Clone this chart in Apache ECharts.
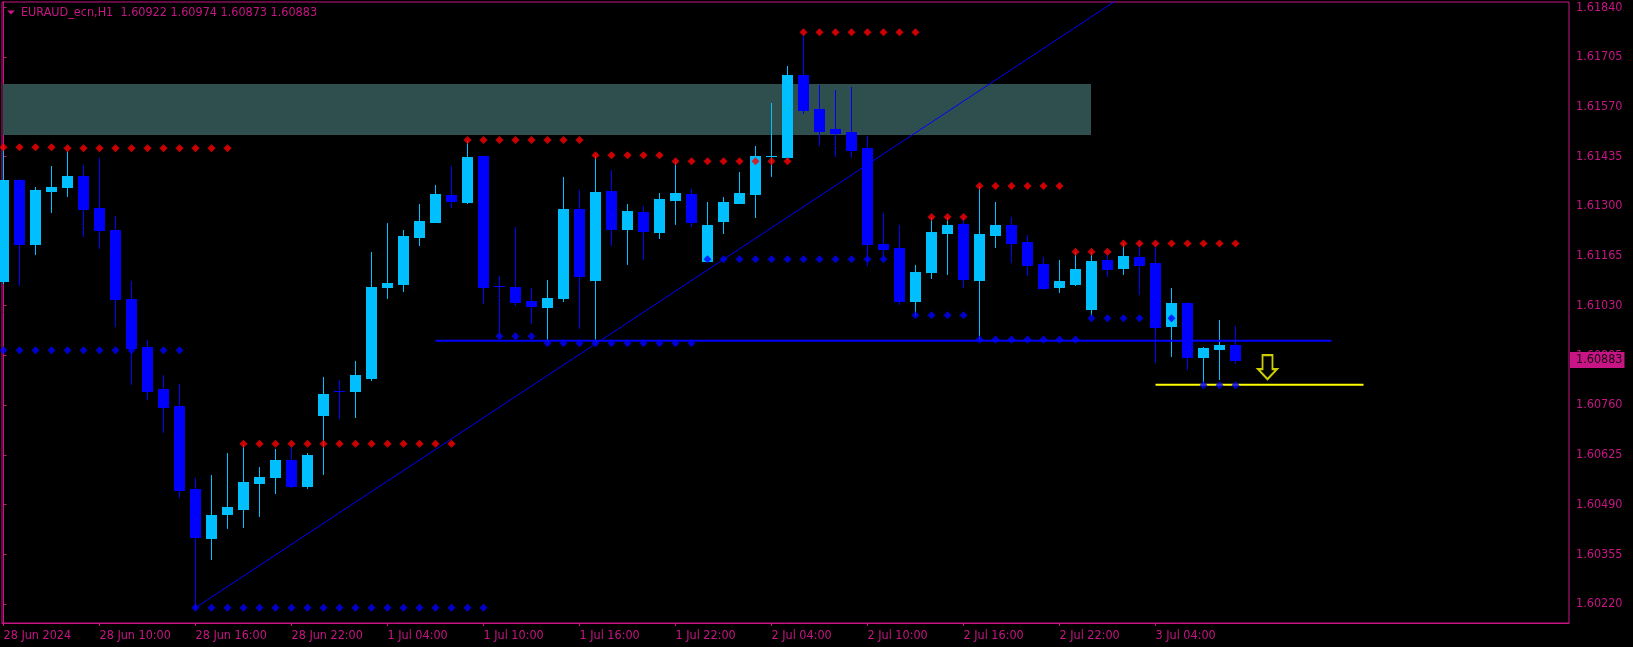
<!DOCTYPE html>
<html><head><meta charset="utf-8">
<script src="https://cdn.jsdelivr.net/npm/echarts@6/dist/echarts.min.js"></script>
<style>html,body{margin:0;padding:0;background:#000;}#c{width:1633px;height:647px;}</style>
</head><body><div id="c"></div>
<script>
const chartTitle = 'EURAUD_ecn,H1  1.60922 1.60974 1.60873 1.60883';
// H1 candles, index 0 = 28 Jun 2024 04:00
const opens = [1.61097,1.61371,1.61198,1.61342,1.61352,1.61382,1.61295,1.61235,1.61048,1.60918,
1.60804,1.60758,1.60532,1.60400,1.60465,1.60479,1.60549,1.60565,1.60611,1.60540,
1.60734,1.60797,1.60798,1.60834,1.61081,1.61089,1.61216,1.61257,1.61330,1.61311,
1.61436,1.61083,1.61081,1.61043,1.61026,1.61051,1.61292,1.61100,1.61341,1.61238,
1.61284,1.61230,1.61317,1.61333,1.61151,1.61260,1.61309,1.61333,1.61435,1.61434,
1.61656,1.61564,1.61510,1.61501,1.61458,1.61197,1.61186,1.61043,1.61121,1.61227,
1.61252,1.61100,1.61222,1.61249,1.61203,1.61143,1.61081,1.61089,1.61021,1.61154,
1.61132,1.61162,1.61146,1.60975,1.61037,1.60891,1.60912,1.60922];
const highs = [1.61458,1.61374,1.61352,1.61409,1.61451,1.61412,1.61431,1.61273,1.61097,1.60938,
1.60842,1.60817,1.60562,1.60570,1.60630,1.60652,1.60592,1.60641,1.60652,1.60630,
1.60836,1.60828,1.60880,1.61176,1.61254,1.61235,1.61306,1.61358,1.61409,1.61476,
1.61436,1.61110,1.61243,1.61078,1.61100,1.61379,1.61344,1.61436,1.61398,1.61306,
1.61301,1.61336,1.61420,1.61347,1.61311,1.61325,1.61393,1.61463,1.61580,1.61681,
1.61772,1.61629,1.61615,1.61624,1.61491,1.61282,1.61249,1.61140,1.61271,1.61271,
1.61271,1.61355,1.61311,1.61271,1.61222,1.61162,1.61154,1.61176,1.61176,1.61176,
1.61200,1.61200,1.61200,1.61078,1.61040,1.60918,1.60991,1.60974];
const lows = [1.61091,1.61086,1.61171,1.61285,1.61328,1.61220,1.61187,1.60976,1.60818,1.60777,
1.60688,1.60511,1.60210,1.60342,1.60427,1.60430,1.60460,1.60522,1.60538,1.60536,
1.60574,1.60726,1.60728,1.60828,1.61051,1.61070,1.61195,1.61257,1.61298,1.61309,
1.61037,1.60948,1.61032,1.60983,1.60935,1.61043,1.60969,1.60934,1.61195,1.61143,
1.61157,1.61214,1.61252,1.61246,1.61151,1.61227,1.61309,1.61271,1.61382,1.61428,
1.61553,1.61466,1.61436,1.61434,1.61140,1.61157,1.61034,1.61005,1.61105,1.61116,
1.61081,1.60937,1.61189,1.61148,1.61113,1.61075,1.61067,1.61086,1.61005,1.61110,
1.61116,1.61062,1.60877,1.60893,1.60858,1.60815,1.60831,1.60873];
const closes = [1.61371,1.61198,1.61344,1.61352,1.61382,1.61292,1.61236,1.61048,1.60916,1.60798,
1.60755,1.60530,1.60402,1.60462,1.60483,1.60551,1.60565,1.60611,1.60541,1.60624,
1.60790,1.60797,1.60842,1.61081,1.61091,1.61219,1.61260,1.61333,1.61314,1.61434,
1.61081,1.61083,1.61040,1.61029,1.61051,1.61292,1.61110,1.61339,1.61238,1.61287,
1.61233,1.61320,1.61336,1.61257,1.61249,1.61311,1.61336,1.61436,1.61436,1.61656,
1.61561,1.61504,1.61499,1.61453,1.61197,1.61184,1.61043,1.61121,1.61230,1.61249,
1.61102,1.61224,1.61249,1.61200,1.61140,1.61078,1.61097,1.61129,1.61151,1.61129,
1.61165,1.61140,1.60972,1.61037,1.60891,1.60915,1.60923,1.60883];

const xTickIdx = [0,6,12,18,24,30,36,42,48,54,60,66,72];
const xTickLabels = ['28 Jun 2024','28 Jun 10:00','28 Jun 16:00','28 Jun 22:00','1 Jul 04:00','1 Jul 10:00',
  '1 Jul 16:00','1 Jul 22:00','2 Jul 04:00','2 Jul 10:00','2 Jul 16:00','2 Jul 22:00','3 Jul 04:00'];
const yTicks = [1.61840,1.61705,1.61570,1.61435,1.61300,1.61165,1.61030,1.60895,1.60760,1.60625,1.60490,1.60355,1.60220];
const lastPrice = 1.60883;

// [fromIndex, toIndex, price]
const resistanceDots = [[0,3,1.61460],[4,14,1.61457],[15,28,1.60655],[29,36,1.61480],[37,41,1.61438],
  [42,49,1.61422],[50,57,1.61772],[58,60,1.61271],[61,66,1.61355],[67,69,1.61176],[70,77,1.61199]];
const supportDots = [[0,11,1.60909],[12,30,1.60210],[31,33,1.60947],[34,43,1.60928],[44,55,1.61156],
  [57,60,1.61004],[61,67,1.60938],[68,73,1.60996],[75,77,1.60814]];

const zoneBox = [[-0.03, 68, 1.61632, 1.61493]]; // [x0, x1, top, bottom]
const trendLine = [[12, 1.60210], [72, 1.61929]];
const levelLine = [[27, 1.60935], [83, 1.60935]];
const targetLine = [[72, 1.60815], [85, 1.60815]];
const arrowPoint = [[79, 1.60863]];

const MAG = '#C71585', BULL = '#00BFFF', BEAR = '#0000FF';
const FONT = "'DejaVu Sans Condensed', 'DejaVu Sans'";
const FS = 12.5;

function expand(segs) {
  const out = [];
  segs.forEach(s => { for (let i = s[0]; i <= s[1]; i++) out.push([i, s[2]]); });
  return out;
}
const candleData = opens.map((o, i) => [i, o, closes[i], lows[i], highs[i]]);

const chart = echarts.init(document.getElementById('c'), null, {renderer: 'canvas'});
chart.setOption({
  animation: false,
  backgroundColor: '#000',
  title: {
    text: chartTitle, left: 21, top: 6, padding: 0,
    textStyle: {color: MAG, fontSize: FS, fontFamily: FONT, fontWeight: 'normal'}
  },
  graphic: [{type: 'polygon', shape: {points: [[7,10.5],[15,10.5],[11,14.5]]}, style: {fill: MAG}}],
  grid: {left: 2, top: 2, right: 64, bottom: 24, show: true, borderColor: MAG, borderWidth: 1, backgroundColor: '#000'},
  xAxis: {
    type: 'value', min: -0.09375, max: 97.84375,
    axisLine: {show: true, lineStyle: {color: MAG}},
    axisTick: {show: true, length: 3, customValues: xTickIdx, lineStyle: {color: MAG}},
    axisLabel: {customValues: xTickIdx, formatter: v => xTickLabels[xTickIdx.indexOf(Math.round(v))],
      align: 'left', margin: 6, color: MAG, fontSize: FS, fontFamily: FONT},
    splitLine: {show: false}
  },
  yAxis: {
    type: 'value', position: 'right', min: 1.601684, max: 1.618544,
    axisLine: {show: true, lineStyle: {color: MAG}},
    axisTick: {show: true, length: 3, customValues: yTicks, lineStyle: {color: MAG}},
    axisLabel: {customValues: yTicks, formatter: v => v.toFixed(5), margin: 7, padding: [2, 0, 0, 0],
      color: MAG, fontSize: FS, fontFamily: FONT},
    splitLine: {show: false}
  },
  series: [
    {
      type: 'custom', z: 1, silent: true, data: zoneBox,
      renderItem: (params, api) => {
        const a = api.coord([api.value(0), api.value(2)]);
        const b = api.coord([api.value(1), api.value(3)]);
        return {type: 'rect', shape: {x: Math.round(a[0]), y: Math.round(a[1]), width: Math.round(b[0]-a[0]), height: Math.round(b[1]-a[1])},
          style: {fill: '#2F4F4F'}};
      }
    },
    {
      type: 'custom', z: 2, silent: true, data: candleData,
      encode: {x: 0, y: [1,2,3,4]},
      renderItem: (params, api) => {
        const i = api.value(0), o = api.value(1), c = api.value(2), l = api.value(3), h = api.value(4);
        const pH = api.coord([i, h]), pL = api.coord([i, l]), pO = api.coord([i, o]), pC = api.coord([i, c]);
        const col = c > o ? BULL : BEAR;
        const cx = Math.floor(pH[0]);
        const bw = Math.round(api.size([1, 0])[0] * 0.6875);
        const half = Math.floor(bw / 2);
        const top = Math.round(Math.min(pO[1], pC[1]));
        const bot = Math.round(Math.max(pO[1], pC[1]));
        return {type: 'group', children: [
          {type: 'rect', shape: {x: cx, y: Math.round(pH[1]), width: 1, height: Math.max(1, Math.round(pL[1]) - Math.round(pH[1]) + 1)}, style: {fill: col}},
          {type: 'rect', shape: {x: cx - half, y: top, width: bw, height: Math.max(1, bot - top + 1)}, style: {fill: col}}
        ]};
      }
    },
    {type: 'line', z: 3, silent: true, data: trendLine, symbol: 'none', lineStyle: {color: '#0000FF', width: 1}},
    {type: 'line', z: 3, silent: true, data: levelLine, symbol: 'none', lineStyle: {color: '#0000FF', width: 2}},
    {type: 'line', z: 3, silent: true, data: targetLine, symbol: 'none', lineStyle: {color: '#FFFF00', width: 2}},
    {type: 'scatter', z: 4, silent: true, data: expand(resistanceDots), symbol: 'diamond', symbolSize: 8, itemStyle: {color: '#FF0000'}},
    {type: 'scatter', z: 4, silent: true, data: expand(supportDots), symbol: 'diamond', symbolSize: 8, itemStyle: {color: '#0000FF'}},
    {type: 'scatter', z: 5, silent: true, data: arrowPoint,
      symbol: 'path://M5,0L16,0L16,15L21,15L10.5,26L0,15L5,15Z', symbolSize: [19, 24],
      itemStyle: {color: '#000', borderColor: '#FFFF00', borderWidth: 2}},
    {
      // last price box on the price scale
      type: 'custom', z: 10, silent: true, clip: false, data: [[77, lastPrice]],
      renderItem: (params, api) => {
        const p = api.coord([api.value(0), api.value(1)]);
        const cs = params.coordSys;
        return {type: 'text', x: cs.x + cs.width + 1, y: Math.round(p[1]),
          style: {text: api.value(1).toFixed(5), fill: '#1a0010', backgroundColor: MAG,
            padding: [2, 2, 1, 6], fontSize: FS, fontFamily: FONT, verticalAlign: 'middle', align: 'left'}};
      }
    }
  ]
});
</script>
</body></html>
